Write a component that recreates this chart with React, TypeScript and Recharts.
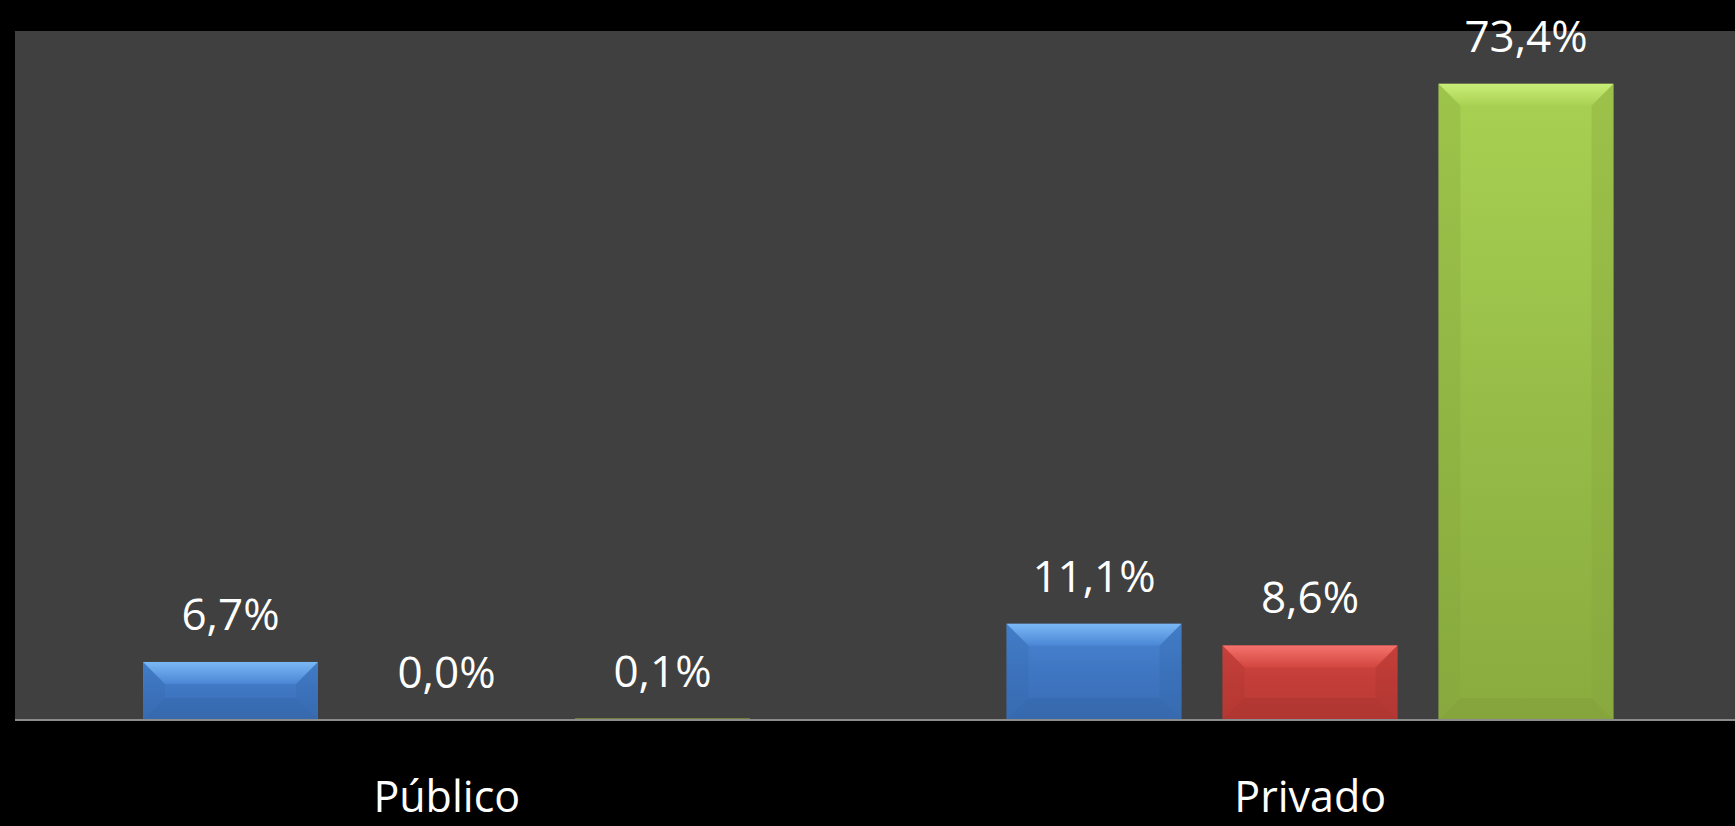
import { BarChart, Bar, XAxis, YAxis, CartesianGrid, LabelList } from "recharts";

const categories = ["Público", "Privado"];
const azul = [6.7, 11.1];
const vermelho = [0.0, 8.6];
const verde = [0.1, 73.4];

const data = categories.map((name, i) => ({
  name,
  azul: azul[i],
  vermelho: vermelho[i],
  verde: verde[i],
}));

const FONT = "'Open Sans', sans-serif";

const tones: Record<string, { top: string; mid: string; bot: string; hi: string; side: string; low: string }> = {
  azul: { top: "#4a86d4", mid: "#3f76c2", bot: "#3a6db4", hi: "#7ab8f6", side: "#3569ad", low: "#2f5f9e" },
  vermelho: { top: "#d2463f", mid: "#c23d38", bot: "#b83a35", hi: "#f4736d", side: "#ad3531", low: "#9c2f2b" },
  verde: { top: "#a8d152", mid: "#97bd48", bot: "#8aab3f", hi: "#c9ee78", side: "#86a63c", low: "#7a9636" },
};

function BevelBar(props: any) {
  const { x, y, width, height, tone } = props;
  if (!height || height <= 0) return null;
  const t = tones[tone];
  const w = width;
  const h = height;
  if (h < 3) {
    return <rect x={x} y={y + h - 2} width={w} height={2} fill="#6f7f3a" />;
  }
  const b = Math.min(22, h / 2, w / 2);
  return (
    <g>
      <rect x={x} y={y} width={w} height={h} fill={`url(#main-${tone})`} />
      <polygon
        points={`${x},${y} ${x + w},${y} ${x + w - b},${y + b} ${x + b},${y + b}`}
        fill={`url(#hi-${tone})`}
      />
      <polygon
        points={`${x},${y} ${x + b},${y + b} ${x + b},${y + h - b} ${x},${y + h}`}
        fill={t.side}
        opacity={0.3}
      />
      <polygon
        points={`${x + w},${y} ${x + w - b},${y + b} ${x + w - b},${y + h - b} ${x + w},${y + h}`}
        fill={t.side}
        opacity={0.35}
      />
      <polygon
        points={`${x},${y + h} ${x + b},${y + h - b} ${x + w - b},${y + h - b} ${x + w},${y + h}`}
        fill={t.low}
        opacity={0.3}
      />
    </g>
  );
}

function ValueLabel(props: any) {
  const { x, y, width, value } = props;
  const txt = Number(value).toFixed(1).replace(".", ",") + "%";
  return (
    <text x={x + width / 2} y={y - 32} textAnchor="middle" fill="#ffffff" fontSize={44} fontFamily={FONT}>
      {txt}
    </text>
  );
}

function CategoryTick(props: any) {
  const { x, y, payload } = props;
  return (
    <text x={x} y={y} dy={92} textAnchor="middle" fill="#ffffff" fontSize={43} fontFamily={FONT}>
      {payload.value}
    </text>
  );
}

export default function App() {
  return (
    <div
      style={{
        position: "fixed",
        left: 0,
        top: 0,
        width: 1735,
        height: 826,
        overflow: "hidden",
        background: "#000000",
      }}
    >
      <BarChart
        width={1742}
        height={826}
        data={data}
        margin={{ top: 31, right: 0, left: 15, bottom: 0 }}
        barSize={175}
        barGap={41}
      >
        <defs>
          {Object.keys(tones).map((k) => (
            <g key={k}>
              <linearGradient id={`main-${k}`} x1="0" y1="0" x2="0" y2="1">
                <stop offset="0%" stopColor={tones[k].top} />
                <stop offset="50%" stopColor={tones[k].mid} />
                <stop offset="100%" stopColor={tones[k].bot} />
              </linearGradient>
              <linearGradient id={`hi-${k}`} x1="0" y1="0" x2="0" y2="1">
                <stop offset="0%" stopColor={tones[k].hi} />
                <stop offset="100%" stopColor={tones[k].top} />
              </linearGradient>
            </g>
          ))}
        </defs>
        <CartesianGrid fill="#404040" fillOpacity={1} stroke="none" horizontal={false} vertical={false} />
        <XAxis
          dataKey="name"
          height={106}
          tickSize={0}
          tickMargin={0}
          tickLine={false}
          axisLine={{ stroke: "#8c8c8c", strokeWidth: 2 }}
          tick={<CategoryTick />}
        />
        <YAxis hide domain={[0, 79.5]} />
        <Bar dataKey="azul" fill="#3f76c2" isAnimationActive={false} shape={(p: any) => <BevelBar {...p} tone="azul" />}>
          <LabelList dataKey="azul" content={<ValueLabel />} />
        </Bar>
        <Bar dataKey="vermelho" fill="#c23d38" isAnimationActive={false} shape={(p: any) => <BevelBar {...p} tone="vermelho" />}>
          <LabelList dataKey="vermelho" content={<ValueLabel />} />
        </Bar>
        <Bar dataKey="verde" fill="#97bd48" isAnimationActive={false} shape={(p: any) => <BevelBar {...p} tone="verde" />}>
          <LabelList dataKey="verde" content={<ValueLabel />} />
        </Bar>
      </BarChart>
    </div>
  );
}
